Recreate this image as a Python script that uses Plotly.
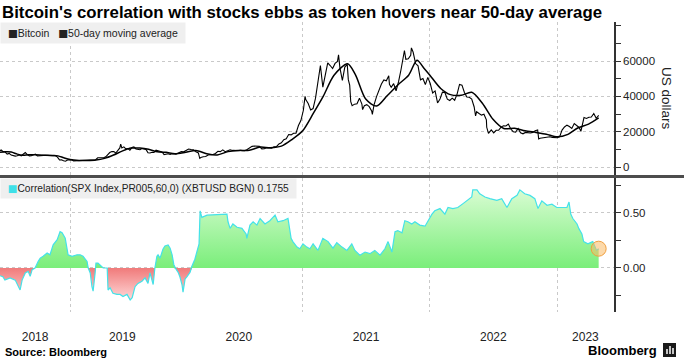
import plotly.graph_objects as go

# ---------------- data ----------------
btc_dates = [
    "2018-05-02","2018-05-06","2018-05-13","2018-05-20","2018-05-27","2018-06-03","2018-06-10","2018-06-17",
    "2018-06-24","2018-07-01","2018-07-08","2018-07-15","2018-07-22","2018-07-29","2018-08-05","2018-08-12",
    "2018-08-19","2018-08-26","2018-09-02","2018-09-09","2018-09-16","2018-09-23","2018-09-30","2018-10-07",
    "2018-10-14","2018-10-21","2018-10-28","2018-11-04","2018-11-11","2018-11-18","2018-11-25","2018-12-02",
    "2018-12-09","2018-12-16","2018-12-23","2018-12-30","2019-01-06","2019-01-13","2019-01-20","2019-01-27",
    "2019-02-03","2019-02-10","2019-02-17","2019-02-24","2019-03-03","2019-03-10","2019-03-17","2019-03-24",
    "2019-03-31","2019-04-07","2019-04-14","2019-04-21","2019-04-28","2019-05-05","2019-05-12","2019-05-19",
    "2019-05-26","2019-06-02","2019-06-09","2019-06-16","2019-06-23","2019-06-26","2019-06-30","2019-07-07",
    "2019-07-14","2019-07-21","2019-07-28","2019-08-04","2019-08-11","2019-08-18","2019-08-25","2019-09-01",
    "2019-09-08","2019-09-15","2019-09-22","2019-09-29","2019-10-06","2019-10-13","2019-10-20","2019-10-27",
    "2019-11-03","2019-11-10","2019-11-17","2019-11-24","2019-12-01","2019-12-08","2019-12-15","2019-12-22",
    "2019-12-29","2020-01-01","2020-01-05","2020-01-12","2020-01-19","2020-01-26","2020-02-02","2020-02-09",
    "2020-02-16","2020-02-23","2020-03-01","2020-03-08","2020-03-12","2020-03-15","2020-03-22","2020-03-29",
    "2020-04-05","2020-04-12","2020-04-19","2020-04-26","2020-05-03","2020-05-10","2020-05-17","2020-05-24",
    "2020-05-31","2020-06-07","2020-06-14","2020-06-21","2020-06-28","2020-07-05","2020-07-12","2020-07-19",
    "2020-07-26","2020-08-02","2020-08-09","2020-08-16","2020-08-23","2020-08-30","2020-09-06","2020-09-13",
    "2020-09-20","2020-09-27","2020-10-04","2020-10-11","2020-10-18","2020-10-25","2020-11-01","2020-11-08",
    "2020-11-15","2020-11-22","2020-11-29","2020-12-06","2020-12-13","2020-12-20","2020-12-27","2021-01-03",
    "2021-01-08","2021-01-10","2021-01-17","2021-01-24","2021-01-31","2021-02-07","2021-02-14","2021-02-21",
    "2021-02-28","2021-03-07","2021-03-14","2021-03-21","2021-03-28","2021-04-04","2021-04-11","2021-04-14",
    "2021-04-18","2021-04-25","2021-05-02","2021-05-09","2021-05-12","2021-05-16","2021-05-19","2021-05-23",
    "2021-05-30","2021-06-06","2021-06-13","2021-06-20","2021-06-22","2021-06-27","2021-07-04","2021-07-11",
    "2021-07-18","2021-07-20","2021-07-25","2021-08-01","2021-08-08","2021-08-15","2021-08-22","2021-08-29",
    "2021-09-05","2021-09-07","2021-09-12","2021-09-19","2021-09-26","2021-10-03","2021-10-10","2021-10-17",
    "2021-10-20","2021-10-24","2021-10-31","2021-11-07","2021-11-09","2021-11-14","2021-11-21","2021-11-28",
    "2021-12-05","2021-12-12","2021-12-19","2021-12-26","2022-01-02","2022-01-09","2022-01-16","2022-01-23",
    "2022-01-30","2022-02-06","2022-02-13","2022-02-20","2022-02-27","2022-03-06","2022-03-13","2022-03-20",
    "2022-03-27","2022-04-03","2022-04-10","2022-04-17","2022-04-24","2022-05-01","2022-05-08","2022-05-12",
    "2022-05-15","2022-05-22","2022-05-29","2022-06-05","2022-06-12","2022-06-13","2022-06-18","2022-06-26",
    "2022-07-03","2022-07-10","2022-07-17","2022-07-24","2022-07-31","2022-08-07","2022-08-14","2022-08-21",
    "2022-08-28","2022-09-04","2022-09-11","2022-09-18","2022-09-25","2022-10-02","2022-10-09","2022-10-16",
    "2022-10-23","2022-10-30","2022-11-06","2022-11-09","2022-11-13","2022-11-20","2022-11-27","2022-12-04",
    "2022-12-11","2022-12-18","2022-12-25","2023-01-01","2023-01-08","2023-01-15","2023-01-22","2023-01-29",
    "2023-02-05","2023-02-12","2023-02-19","2023-02-26","2023-03-05","2023-03-10","2023-03-12","2023-03-19",
    "2023-03-26","2023-04-02","2023-04-09","2023-04-14","2023-04-16","2023-04-23","2023-04-30",
]
btc_prices = [
    9200, 9650, 8700, 8500, 7350, 7700, 6750, 6500,
    6150, 6380, 6750, 6350, 7400, 8200, 7000, 6300,
    6400, 7000, 7300, 6250, 6500, 6700, 6600, 6600,
    6450, 6500, 6350, 6400, 6350, 5600, 4000, 4100,
    3550, 3250, 3950, 3850, 4050, 3500, 3550, 3550,
    3450, 3650, 3650, 3800, 3800, 3900, 4000, 3980,
    4100, 5200, 5100, 5300, 5200, 5800, 7000, 8200,
    8750, 8700, 7900, 9300, 10800, 13000, 10800, 11400,
    10300, 10500, 9500, 11000, 11400, 10200, 10100, 9800,
    10500, 10300, 10000, 8100, 7900, 8300, 8200, 9500,
    9250, 8800, 8500, 7000, 7400, 7500, 7100, 7500,
    7400, 7200, 7400, 8100, 8700, 8600, 9400, 10150,
    9900, 9700, 8600, 8000, 4900, 5400, 5800, 5900,
    6800, 6900, 7100, 7700, 8900, 8700, 9700, 8700,
    9450, 9750, 9400, 9300, 9100, 9100, 9250, 9200,
    9950, 11100, 11700, 11900, 11650, 11700, 10250, 10300,
    10900, 10700, 10650, 11400, 11500, 13100, 13700, 15500,
    16000, 18400, 18200, 19150, 19200, 23500, 26300, 32000,
    40000, 38200, 36000, 32300, 33100, 39000, 48700, 57500,
    45200, 51200, 59000, 57500, 55800, 58700, 59800, 63500,
    56200, 49000, 56600, 58200, 49500, 46400, 37000, 34700,
    35600, 35800, 39000, 35600, 32500, 34700, 35300, 34200,
    31800, 29800, 35400, 39900, 43800, 47000, 49300, 48800,
    51700, 46800, 45200, 47250, 43200, 48200, 54950, 61500,
    66000, 61000, 61300, 63300, 67500, 65000, 58600, 57300,
    49400, 50100, 46700, 50800, 47300, 41900, 43100, 36300,
    38500, 42400, 42200, 38400, 37700, 39000, 37800, 41300,
    46800, 46400, 42200, 39700, 39500, 38500, 34000, 28900,
    31300, 30300, 29400, 29900, 26700, 22500, 19000, 21000,
    19300, 20800, 20800, 22600, 23300, 23200, 24300, 21500,
    20000, 19800, 21800, 19400, 18800, 19600, 19400, 19300,
    19600, 20600, 21000, 15900, 16300, 16600, 16500, 17100,
    17100, 16800, 16800, 16600, 17100, 20900, 22700, 23700,
    22900, 21800, 24600, 23500, 22400, 20200, 22000, 28000,
    27500, 28200, 28300, 30400, 30300, 27600, 29200,
]

ma_dates = [
    "2018-05-02","2018-05-20","2018-06-10","2018-07-01","2018-07-20","2018-08-10","2018-09-01","2018-10-01",
    "2018-11-01","2018-11-20","2018-12-10","2019-01-01","2019-02-01","2019-03-01","2019-04-01","2019-05-01",
    "2019-06-01","2019-07-01","2019-08-01","2019-09-01","2019-10-01","2019-11-01","2019-12-01","2020-01-01",
    "2020-02-01","2020-03-01","2020-04-01","2020-05-01","2020-06-01","2020-07-01","2020-08-01","2020-09-01",
    "2020-10-01","2020-11-01","2020-12-01","2021-01-01","2021-02-01","2021-03-01","2021-04-01","2021-05-10",
    "2021-06-01","2021-07-01","2021-08-01","2021-09-01","2021-10-01","2021-11-01","2021-11-25","2021-12-15",
    "2022-01-01","2022-02-01","2022-03-01","2022-04-01","2022-05-01","2022-06-01","2022-07-01","2022-08-01",
    "2022-09-01","2022-10-01","2022-11-01","2022-12-01","2023-01-01","2023-02-01","2023-03-01","2023-04-01",
    "2023-04-30",
]
ma_prices = [
    8300, 8600, 8500, 7300, 6700, 7000, 6900, 6700,
    6500, 6300, 5200, 4200, 3700, 3650, 3900, 4900,
    6800, 9000, 10700, 10700, 10000, 8600, 8300, 7500,
    8400, 9400, 7500, 6800, 8700, 9400, 9500, 11300,
    10900, 11800, 15500, 20500, 30500, 40000, 52000, 58500,
    52500, 38500, 34500, 40500, 46500, 52000, 60500, 56000,
    52000, 44500, 41000, 40600, 42300, 36000, 27000, 21800,
    22000, 20500, 19600, 18600, 17100, 18500, 22100, 24300,
    27800,
]

corr_dates = [
    "2018-05-02","2018-05-12","2018-05-19","2018-06-06","2018-06-24","2018-07-04","2018-07-11","2018-07-18",
    "2018-07-29","2018-08-08","2018-08-15","2018-08-22","2018-09-01","2018-09-12","2018-09-19","2018-09-29",
    "2018-10-13","2018-10-23","2018-11-03","2018-11-17","2018-11-27","2018-12-04","2018-12-15","2018-12-25",
    "2019-01-08","2019-01-25","2019-02-05","2019-02-15","2019-03-01","2019-03-05","2019-03-12","2019-03-18",
    "2019-03-22","2019-03-29","2019-04-01","2019-04-08","2019-04-15","2019-04-26","2019-05-10","2019-05-13",
    "2019-05-20","2019-05-30","2019-06-13","2019-06-24","2019-07-04","2019-07-18","2019-07-29","2019-08-05",
    "2019-08-15","2019-08-25","2019-09-08","2019-09-19","2019-09-29","2019-10-06","2019-10-17","2019-10-23",
    "2019-10-30","2019-11-03","2019-11-10","2019-11-20","2019-11-27","2019-12-08","2019-12-15","2019-12-22",
    "2019-12-28","2020-01-04","2020-01-10","2020-01-15","2020-01-21","2020-01-24","2020-01-30","2020-02-04",
    "2020-02-13","2020-02-19","2020-02-27","2020-03-04","2020-03-10","2020-03-13","2020-03-18","2020-04-02",
    "2020-04-19","2020-05-09","2020-05-29","2020-06-01","2020-06-07","2020-06-15","2020-06-27","2020-07-11",
    "2020-07-23","2020-07-25","2020-08-03","2020-08-12","2020-08-23","2020-09-01","2020-09-15","2020-09-29",
    "2020-10-14","2020-10-22","2020-11-06","2020-11-20","2020-11-29","2020-12-04","2020-12-16","2020-12-24",
    "2021-01-02","2021-01-13","2021-01-22","2021-01-31","2021-02-14","2021-02-28","2021-03-15","2021-03-29",
    "2021-04-09","2021-04-24","2021-05-08","2021-05-22","2021-05-31","2021-06-14","2021-06-29","2021-07-13",
    "2021-07-27","2021-08-11","2021-08-25","2021-09-03","2021-09-14","2021-09-23","2021-10-01","2021-10-13",
    "2021-10-21","2021-10-30","2021-11-10","2021-11-19","2021-12-03","2021-12-18","2021-12-26","2022-01-07",
    "2022-01-15","2022-01-30","2022-02-13","2022-02-22","2022-03-08","2022-03-22","2022-04-06","2022-04-20",
    "2022-05-01","2022-05-04","2022-05-16","2022-05-24","2022-06-08","2022-06-22","2022-07-12","2022-07-26",
    "2022-08-10","2022-08-24","2022-09-08","2022-09-16","2022-09-30","2022-10-15","2022-10-29","2022-11-07",
    "2022-11-18","2022-12-03","2022-12-17","2022-12-31","2023-01-15","2023-01-29","2023-02-04","2023-02-09",
    "2023-02-15","2023-02-27","2023-03-04","2023-03-13","2023-03-18","2023-03-30","2023-04-13","2023-04-24",
    "2023-04-30",
]
corr_values = [
    -0.07, -0.08, -0.11, -0.09, -0.11, -0.17, -0.20, -0.11,
    -0.045, -0.03, -0.076, -0.015, 0.0, 0.06, 0.09, 0.106,
    0.136, 0.12, 0.21, 0.257, 0.33, 0.32, 0.27, 0.12,
    0.106, 0.12, 0.12, 0.106, 0.06, 0.0, -0.045, -0.17,
    -0.21, -0.045, 0.045, 0.045, 0.03, 0.0, 0.0, -0.20,
    -0.18, -0.23, -0.24, -0.24, -0.26, -0.24, -0.29, -0.27,
    -0.17, -0.14, -0.12, -0.09, -0.14, -0.045, -0.15, 0.0,
    0.106, 0.12, 0.09, 0.17, 0.20, 0.21, 0.18, 0.12,
    0.03, -0.01, -0.04, -0.08, -0.15, -0.22, -0.10, -0.08,
    -0.04, 0.02, 0.08, 0.15, 0.22, 0.52, 0.46, 0.48,
    0.485, 0.485, 0.49, 0.42, 0.36, 0.40, 0.37, 0.36,
    0.31, 0.27, 0.39, 0.42, 0.39, 0.45, 0.40, 0.43,
    0.48, 0.42, 0.43, 0.45, 0.27, 0.24, 0.19, 0.175,
    0.22, 0.19, 0.175, 0.22, 0.16, 0.27, 0.24, 0.18,
    0.23, 0.19, 0.16, 0.22, 0.16, 0.116, 0.145, 0.13,
    0.16, 0.116, 0.175, 0.24, 0.145, 0.33, 0.34, 0.32,
    0.43, 0.42, 0.40, 0.42, 0.39, 0.38, 0.43, 0.49,
    0.52, 0.54, 0.49, 0.55, 0.54, 0.55, 0.585, 0.615,
    0.645, 0.71, 0.71, 0.675, 0.645, 0.63, 0.615, 0.63,
    0.55, 0.63, 0.66, 0.71, 0.675, 0.66, 0.63, 0.54,
    0.61, 0.57, 0.58, 0.55, 0.55, 0.55, 0.60, 0.49,
    0.45, 0.40, 0.36, 0.31, 0.24, 0.22, 0.24, 0.16,
    0.1755,
]

year_labels = ["2018", "2019", "2020", "2021", "2022", "2023"]
year_label_dates = ["2018-09-01", "2019-07-02", "2020-07-02", "2021-07-02", "2022-07-02", "2023-03-23"]
year_starts = ["2019-01-01", "2020-01-01", "2021-01-01", "2022-01-01", "2023-01-01"]
price_ticks = [0, 20000, 40000, 60000]
corr_ticks = [0.0, 0.5]

title_text = "Bitcoin's correlation with stocks ebbs as token hovers near 50-day average"
legend_top = ["Bitcoin", "50-day moving average"]
legend_bottom = "Correlation(SPX Index,PR005,60,0) (XBTUSD BGN) 0.1755"

# ---------------- layout geometry ----------------
W, H = 684, 361
ML, MR, MT, MB = 0, 70, 22, 49
PW, PH = W - ML - MR, H - MT - MB
def px_x(x):
    return (x - ML) / PW
def px_y(y):
    return (H - MB - y) / PH

split = px_x(175)
LEFT_RANGE = ["2018-05-02", "2020-01-01"]
RIGHT_RANGE = ["2020-01-01", "2023-06-13"]

FONT = "Liberation Sans"
GRID = "#c9c9c9"
AXC = "#333333"

corr_pos = [max(v, 0) for v in corr_values]
corr_neg = [min(v, 0) for v in corr_values]

fig = go.Figure()
for xa, ya in (("x", "y"), ("x2", "y")):
    fig.add_trace(go.Scatter(x=btc_dates, y=btc_prices, mode="lines", xaxis=xa, yaxis=ya,
                             line=dict(color="#000000", width=1.1), hoverinfo="skip", showlegend=False))
    fig.add_trace(go.Scatter(x=ma_dates, y=ma_prices, mode="lines", xaxis=xa, yaxis=ya,
                             line=dict(color="#000000", width=1.5, shape="spline", smoothing=0.8),
                             hoverinfo="skip", showlegend=False))
for xa, ya in (("x3", "y2"), ("x4", "y2")):
    fig.add_trace(go.Scatter(x=corr_dates, y=corr_pos, mode="lines", xaxis=xa, yaxis=ya, fill="tozeroy",
                             line=dict(width=0),
                             fillgradient=dict(type="vertical",
                                               colorscale=[[0, "#7aee7a"], [1, "#d8fcd2"]]),
                             hoverinfo="skip", showlegend=False))
    fig.add_trace(go.Scatter(x=corr_dates, y=corr_neg, mode="lines", xaxis=xa, yaxis=ya, fill="tozeroy",
                             line=dict(width=0),
                             fillgradient=dict(type="vertical",
                                               colorscale=[[0, "#ffd8d8"], [1, "#f07a7a"]]),
                             hoverinfo="skip", showlegend=False))
    fig.add_trace(go.Scatter(x=corr_dates, y=corr_values, mode="lines", xaxis=xa, yaxis=ya,
                             line=dict(color="#44e2e8", width=1.2), hoverinfo="skip", showlegend=False))
fig.add_trace(go.Scatter(x=corr_dates[-1:], y=corr_values[-1:], mode="markers", xaxis="x4", yaxis="y2",
                         marker=dict(size=15, color="rgba(250,185,100,0.55)",
                                     line=dict(color="#f0a040", width=1)),
                         hoverinfo="skip", showlegend=False))

def xaxis_cfg(domain, rng, labels_on, tickvals, ticktext, minor_vals, anchor):
    return dict(domain=domain, range=rng, type="date", anchor=anchor,
                showgrid=False, zeroline=False, showline=False,
                tickmode="array", tickvals=tickvals, ticktext=ticktext if labels_on else [""] * len(tickvals),
                showticklabels=labels_on, ticks="", ticklabelstandoff=16,
                tickfont=dict(family=FONT, size=12, color="#222"),
                minor=dict(tickmode="array", tickvals=minor_vals, showgrid=True, gridcolor=GRID,
                           griddash="dot", gridwidth=1, ticks=""))

left_lab = year_label_dates[:2]
right_lab = year_label_dates[2:]
left_minor = year_starts[:2]
right_minor = year_starts[1:]

fig.update_layout(
    width=W, height=H, margin=dict(l=ML, r=MR, t=MT, b=MB),
    paper_bgcolor="white", plot_bgcolor="white",
    title=dict(text="<b>" + title_text + "</b>", x=0.003, xanchor="left", xref="container",
               y=1 - 12 / H, yanchor="middle", yref="container",
               font=dict(family=FONT, size=16.8, color="#000")),
    xaxis=xaxis_cfg([0, split], LEFT_RANGE, False, left_lab, year_labels[:2], left_minor, "y"),
    xaxis2=xaxis_cfg([split, 1], RIGHT_RANGE, False, right_lab, year_labels[2:], right_minor, "y"),
    xaxis3=xaxis_cfg([0, split], LEFT_RANGE, True, left_lab, year_labels[:2], left_minor, "y2"),
    xaxis4=xaxis_cfg([split, 1], RIGHT_RANGE, True, right_lab, year_labels[2:], right_minor, "y2"),
    yaxis=dict(domain=[px_y(176), 1], range=[-5100, 82150], anchor="x2", side="right",
               tickmode="array", tickvals=price_ticks, tickformat="d",
               showgrid=True, gridcolor=GRID, griddash="dot", gridwidth=1, zeroline=False,
               showline=True, linecolor=AXC, linewidth=1.5,
               ticks="outside", ticklen=5, tickcolor=AXC, tickwidth=1,
               tickfont=dict(family=FONT, size=11.5, color="#222"),
               minor=dict(tickmode="linear", tick0=0, dtick=10000, ticks="outside", ticklen=5,
                          tickcolor=AXC, showgrid=False)),
    yaxis2=dict(domain=[0, px_y(178)], range=[-0.4, 0.818], anchor="x4", side="right",
                tickmode="array", tickvals=corr_ticks, tickformat=".2f",
                showgrid=True, gridcolor=GRID, griddash="dot", gridwidth=1, zeroline=False,
                showline=True, linecolor=AXC, linewidth=1.5,
                ticks="outside", ticklen=5, tickcolor=AXC, tickwidth=1,
                tickfont=dict(family=FONT, size=11.5, color="#222"),
                minor=dict(tickmode="linear", tick0=0, dtick=0.25, ticks="outside", ticklen=5,
                           tickcolor=AXC, showgrid=False)),
)

sq = "<span style='font-family:DejaVu Sans'>\u25a0</span>"
nb = "\u00a0"
annotations = [
    dict(text=nb + sq + legend_top[0] + nb * 3 + sq + legend_top[1] + nb, xref="paper", yref="paper",
         x=px_x(0), y=px_y(22), xanchor="left", yanchor="top", showarrow=False, align="left",
         bgcolor="#efefef", borderpad=4, font=dict(family=FONT, size=10.5, color="#222")),
    dict(text=nb + "<span style='color:#3ee0e8;font-family:DejaVu Sans'>\u25a0</span>" + legend_bottom + nb,
         xref="paper", yref="paper", x=px_x(0), y=px_y(178), xanchor="left", yanchor="top",
         showarrow=False, align="left", bgcolor="#efefef", borderpad=4,
         font=dict(family=FONT, size=10.2, color="#222")),
    dict(text="US dollars", xref="paper", yref="paper", x=px_x(666), y=px_y(98), textangle=90,
         xanchor="center", yanchor="middle",
         showarrow=False, font=dict(family=FONT, size=13.5, color="#222")),
    dict(text="<b>Source: Bloomberg</b>", xref="paper", yref="paper", x=px_x(3), y=px_y(352),
         xanchor="left", yanchor="middle", showarrow=False, font=dict(family=FONT, size=11, color="#000")),
    dict(text="<b>Bloomberg</b>", xref="paper", yref="paper", x=px_x(659), y=px_y(350),
         xanchor="right", yanchor="middle", showarrow=False, font=dict(family=FONT, size=13, color="#000")),
]
fig.update_layout(annotations=annotations)

shapes = [
    dict(type="line", xref="paper", yref="paper", x0=px_x(0), x1=px_x(W), y0=px_y(176.5), y1=px_y(176.5),
         line=dict(color="#4d4d4d", width=3)),
    dict(type="rect", xref="paper", yref="paper", x0=px_x(663), x1=px_x(676), y0=px_y(357), y1=px_y(343),
         line=dict(width=0), fillcolor="#1a1a1a"),
    dict(type="line", xref="paper", yref="paper", x0=px_x(667), x1=px_x(667), y0=px_y(354), y1=px_y(349),
         line=dict(color="white", width=1.5)),
    dict(type="line", xref="paper", yref="paper", x0=px_x(670), x1=px_x(670), y0=px_y(354), y1=px_y(346),
         line=dict(color="white", width=1.5)),
    dict(type="line", xref="paper", yref="paper", x0=px_x(673), x1=px_x(673), y0=px_y(354), y1=px_y(348),
         line=dict(color="white", width=1.5)),
]
fig.update_layout(shapes=shapes)

fig.write_html("out.html", config={"displayModeBar": False},
               post_script="document.body.style.margin='0px';document.body.style.overflow='hidden';")
